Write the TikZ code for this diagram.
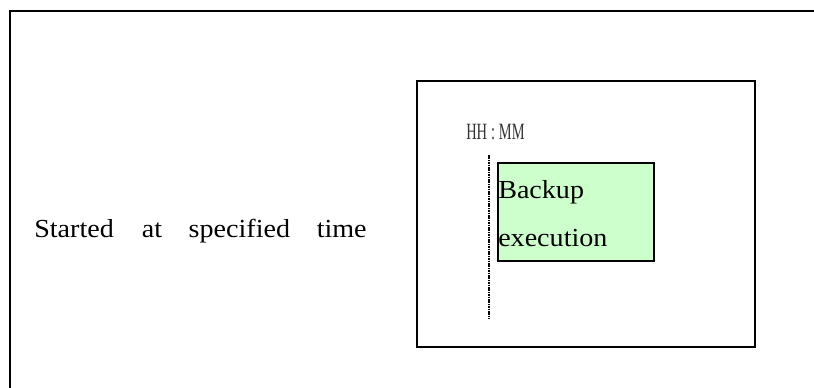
\documentclass[tikz,border=0pt]{standalone}
\usepackage{fontspec}
\setmainfont[FakeStretch=1.08]{Liberation Serif}
\newfontfamily\narrowfont[FakeStretch=0.62]{Liberation Serif}
\definecolor{boxgreen}{HTML}{CCFFCC}
\definecolor{timegray}{HTML}{333333}
\begin{document}
\begin{tikzpicture}[x=0.75pt,y=-0.75pt,
  frame/.style={draw=black,line width=1.5pt},
  panel/.style={draw=black,line width=1.5pt,fill=white,inner sep=0pt,minimum width=253.5pt,minimum height=199.5pt},
  jobbox/.style={draw=black,line width=1.5pt,fill=boxgreen,inner sep=0pt,minimum width=117pt,minimum height=73.5pt},
  label/.style={inner sep=0pt,anchor=base west,font=\fontsize{19.5}{23}\selectfont},
  timelabel/.style={inner sep=0pt,anchor=base west,text=timegray,font=\narrowfont\fontsize{17.5}{20}\selectfont},
  timeline/.style={line width=1.6pt,dash pattern=on 1.2pt off 0.6pt}]
\useasboundingbox (0,0) rectangle (814,387);
\clip (0,0) rectangle (814,387);
\coordinate (fbl) at (10,400);
\coordinate (ftl) at (10,10.5);
\coordinate (ftr) at (830,10.5);
\draw[frame] (fbl) -- (ftl) -- (ftr);
\node[panel] (panel) at (586,214) {};
\node[jobbox] (job) at (576,212) {};
\node[label] (start) at (34,237) {Started\hspace{21pt}at\hspace{20pt}specified\hspace{20pt}time};
\node[timelabel] (hhmm) at (466,139.5) {HH\,:\,MM};
\node[label] (backup) at (498,198) {Backup};
\node[label] (exec) at (498,246) {execution};
\coordinate (tltop) at (489,155);
\coordinate (tlbot) at (489,319);
\draw[timeline] (tltop) -- (tlbot);
\end{tikzpicture}
\end{document}
